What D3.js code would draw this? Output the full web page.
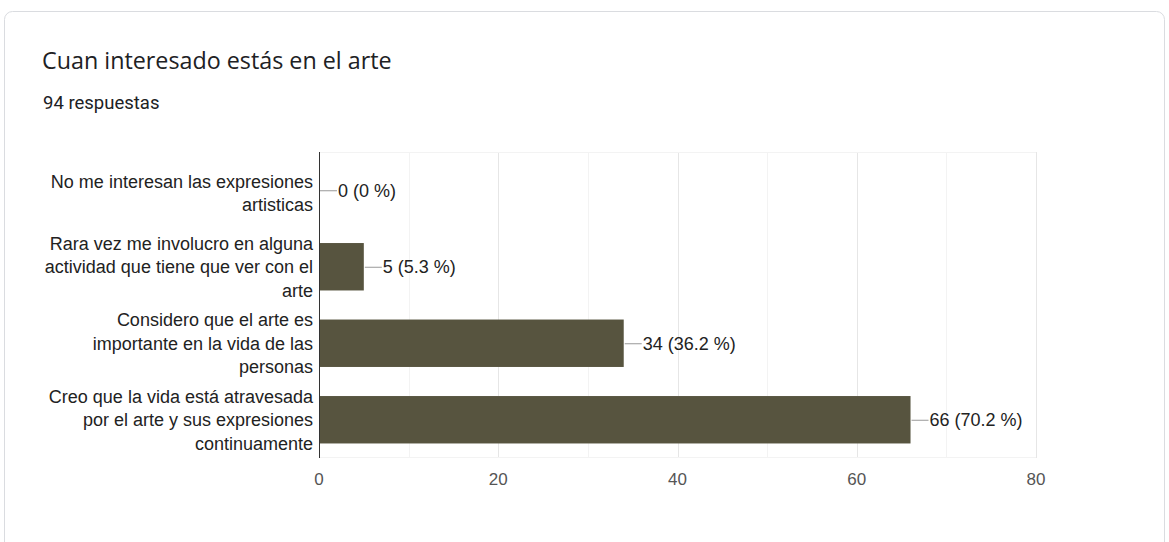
<!DOCTYPE html>
<html>
<head>
<meta charset="utf-8">
<script src="https://cdn.jsdelivr.net/npm/d3@7"></script>
<style>
  body { margin: 0; background: #fff; }
</style>
</head>
<body>
<div id="chart"></div>
<script>
// Data
var categories = [
    "No me interesan las expresiones\nartisticas",
    "Rara vez me involucro en alguna\nactividad que tiene que ver con el\narte",
    "Considero que el arte es\nimportante en la vida de las\npersonas",
    "Creo que la vida está atravesada\npor el arte y sus expresiones\ncontinuamente"
];
var counts = [0, 5, 34, 66];
var percents = ["0 %", "5.3 %", "36.2 %", "70.2 %"];
var xTicks = [0, 20, 40, 60, 80];
var title = "Cuan interesado estás en el arte";
var subtitle = "94 respuestas";

var W = 1169, H = 542;
var margin = { top: 152, left: 319, right: 1169 - 1036, bottom: 542 - 458 };
var width = W - margin.left - margin.right,
    height = H - margin.top - margin.bottom;

var svg = d3.select("#chart")
    .append("svg")
    .attr("width", W)
    .attr("height", H)
    .style("display", "block");

// Card
svg.append("rect")
    .attr("x", 4.5).attr("y", 11.5)
    .attr("width", 1160).attr("height", 560)
    .attr("rx", 8)
    .attr("fill", "#fff")
    .attr("stroke", "#dadce0");

svg.append("text")
    .text(title)
    .attr("x", 42).attr("y", 69)
    .style("font-family", "'Open Sans', Roboto, sans-serif")
    .style("font-size", "23.3px")
    .attr("fill", "#202124");

svg.append("text")
    .text(subtitle)
    .attr("x", 43).attr("y", 109)
    .style("font-family", "Roboto, sans-serif")
    .style("font-size", "18.5px")
    .attr("fill", "#202124");

var g = svg.append("g")
    .attr("transform", "translate(" + margin.left + "," + margin.top + ")");

// Scales
var x = d3.scaleLinear().domain([0, 80]).range([0, width]);
var y = d3.scaleBand().domain(categories).range([0, height]).paddingInner(0.38).paddingOuter(0.19);

// Minor gridlines
g.append("g")
    .selectAll("line")
    .data(d3.range(10, 80, 20))
    .enter()
    .append("line")
    .attr("x1", function(d) { return Math.round(x(d)) + 0.5; })
    .attr("x2", function(d) { return Math.round(x(d)) + 0.5; })
    .attr("y1", 0).attr("y2", height)
    .attr("stroke", "#f3f3f3");

// Major gridlines
g.append("g")
    .selectAll("line")
    .data(xTicks.slice(1))
    .enter()
    .append("line")
    .attr("x1", function(d) { return Math.round(x(d)) + 0.5; })
    .attr("x2", function(d) { return Math.round(x(d)) + 0.5; })
    .attr("y1", 0).attr("y2", height)
    .attr("stroke", "#e6e6e6");

// top / bottom faint lines
g.append("line").attr("x1", 0).attr("x2", width).attr("y1", 0.5).attr("y2", 0.5).attr("stroke", "#f3f3f3");
g.append("line").attr("x1", 0).attr("x2", width).attr("y1", height - 0.5).attr("y2", height - 0.5).attr("stroke", "#f3f3f3");

// Bars
g.append("g")
    .selectAll("rect")
    .data(counts)
    .enter()
    .append("rect")
    .attr("x", x(0))
    .attr("y", function(d, i) { return y(categories[i]); })
    .attr("width", function(d) { return x(d) - x(0); })
    .attr("height", y.bandwidth())
    .attr("fill", "#57543f");

// Value labels with leader line
var lab = g.append("g")
    .selectAll("g")
    .data(counts)
    .enter()
    .append("g")
    .attr("transform", function(d, i) { return "translate(" + x(d) + "," + (y(categories[i]) + y.bandwidth() / 2) + ")"; });

lab.append("line")
    .attr("x1", 1).attr("x2", 18)
    .attr("y1", 0.5).attr("y2", 0.5)
    .attr("stroke", "#999");

lab.append("text")
    .text(function(d, i) { return d + " (" + percents[i] + ")"; })
    .attr("x", 19)
    .attr("dy", "0.35em")
    .style("font-family", "Arial, 'Liberation Sans', sans-serif")
    .style("font-size", "18px")
    .attr("fill", "#222");

// Vertical axis line
g.append("line")
    .attr("x1", 0.5).attr("x2", 0.5)
    .attr("y1", 0).attr("y2", height)
    .attr("stroke", "#333");

// Category labels
var lineH = 23.5;
g.append("g")
    .selectAll("text")
    .data(categories)
    .enter()
    .append("text")
    .attr("text-anchor", "end")
    .style("font-family", "Arial, 'Liberation Sans', sans-serif")
    .style("font-size", "18px")
    .attr("fill", "#222")
    .each(function(d, i) {
        var lines = d.split("\n");
        var cy = y(d) + y.bandwidth() / 2 + (lines.length == 2 ? 3 : 0);
        var t = d3.select(this);
        lines.forEach(function(l, k) {
            t.append("tspan")
                .attr("x", -6)
                .attr("y", cy + (k - (lines.length - 1) / 2) * lineH)
                .attr("dy", "0.35em")
                .text(l);
        });
    });

// X tick labels
g.append("g")
    .selectAll("text")
    .data(xTicks)
    .enter()
    .append("text")
    .text(function(d) { return d; })
    .attr("x", function(d) { return x(d); })
    .attr("y", height + 21)
    .attr("dy", "0.35em")
    .attr("text-anchor", "middle")
    .style("font-family", "Arial, 'Liberation Sans', sans-serif")
    .style("font-size", "17px")
    .attr("fill", "#555");
</script>
</body>
</html>
